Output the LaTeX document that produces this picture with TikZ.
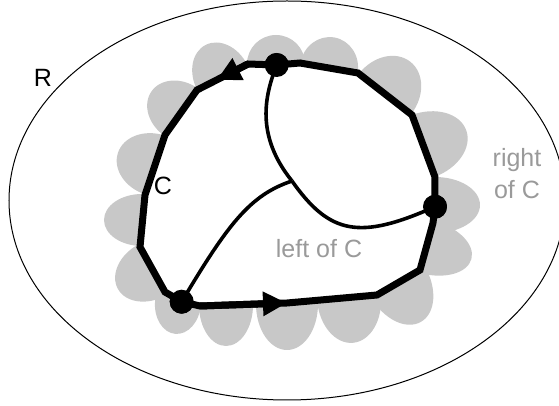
\documentclass[tikz,border=0pt]{standalone}
\usepackage{fontspec}
\setmainfont{Liberation Sans}
\usetikzlibrary{arrows.meta}
\definecolor{ink}      {HTML}{000000}
\definecolor{blobgray} {HTML}{C8C8C8}
\definecolor{sidegray} {HTML}{9A9A9A}
\tikzset{
  region/.style  ={draw=ink, line width=0.5pt},
  blob/.style    ={fill=blobgray},
  curveC/.style  ={draw=ink, line width=3.5pt, fill=white},
  edge/.style    ={draw=ink, line width=1.8pt},
  dirarr/.style  ={-{Triangle[length=12pt,width=11.5pt]}, line width=3.5pt},
  vtx/.style     ={circle, fill=ink, minimum size=12pt, inner sep=0pt},
  lbl/.style     ={font=\fontsize{12.5}{15.8}\selectfont, text=ink, inner sep=0pt},
  side/.style    ={lbl, text=sidegray, align=center},
}

\begin{document}
\begin{tikzpicture}[x=0.5pt,y=-0.5pt]
  \useasboundingbox (0,0) rectangle (559,406);
  \clip (0,0) rectangle (559,406);

  \draw[region] (287,200.5) ellipse [x radius=278, y radius=199.5];

  \foreach \cx/\cy/\ang/\ra/\rb in {
      178/303/-95/31/23, 226/305/-90/41/27, 287/304/-90/46/31,
      349/298/-85/45/32, 398/282/-60/46/31, 427/247/-15/46/27,
      435/205/0/45/28,   423/146/20/46/33,  385/94/52/41/33,
      329/68/80/31/29,   276/64/90/29/29,   222/77/117/36/28,
      181/112/145/36/29, 155/165/162/39/31, 142/220/180/38/26,
      152/270/209/39/29}
    \fill[blob, rotate around={\ang:(\cx,\cy)}]
      (\cx,\cy) ellipse [x radius=\ra, y radius=\rb];

  \node[vtx] (sw) at (181.7,301.7) {};
  \node[vtx] (e)  at (435,206.7) {};
  \node[vtx] (n)  at (276.7,65) {};

  \coordinate (c1)  at (200,306);
  \coordinate (c2)  at (287,303);
  \coordinate (c3)  at (377,295);
  \coordinate (c4)  at (420,270);
  \coordinate (c5)  at (433,223);
  \coordinate (c6)  at (435,177);
  \coordinate (c7)  at (412,115);
  \coordinate (c8)  at (358,73);
  \coordinate (c9)  at (300,63);
  \coordinate (c10) at (248,64);
  \coordinate (c11) at (197,90);
  \coordinate (c12) at (165,135);
  \coordinate (c13) at (145,195);
  \coordinate (c14) at (140,247);
  \coordinate (c15) at (165,292);
  \coordinate (tipn) at (216.7,80);
  \coordinate (mid) at (292,181);

  \draw[curveC] (sw.center) -- (c1) -- (c2) -- (c3) -- (c4) -- (c5)
    -- (e.center) -- (c6) -- (c7) -- (c8) -- (c9) -- (n.center)
    -- (c10) -- (c11) -- (c12) -- (c13) -- (c14) -- (c15) -- cycle;

  \draw[edge] (n.center) .. controls (265,95) and (255,135) .. (mid);
  \draw[edge] (mid) .. controls (330,235) and (360,240) .. (e.center);
  \draw[edge] (mid) .. controls (250,195) and (228,224) .. (sw.center);

  \draw[dirarr] (c10) -- (tipn);
  \draw[dirarr] (c1) -- (c2);

  \node[vtx] at (sw) {};
  \node[vtx] at (e) {};
  \node[vtx] at (n) {};

  \node[lbl] (rlabel) at (43,78) {R};
  \node[lbl] (clabel) at (163,186) {C};
  \node[side, anchor=base] (inside) at (319,258) {left of C};
  \node[side] (outside) at (517,173.5) {right\\of C};
\end{tikzpicture}
\end{document}
